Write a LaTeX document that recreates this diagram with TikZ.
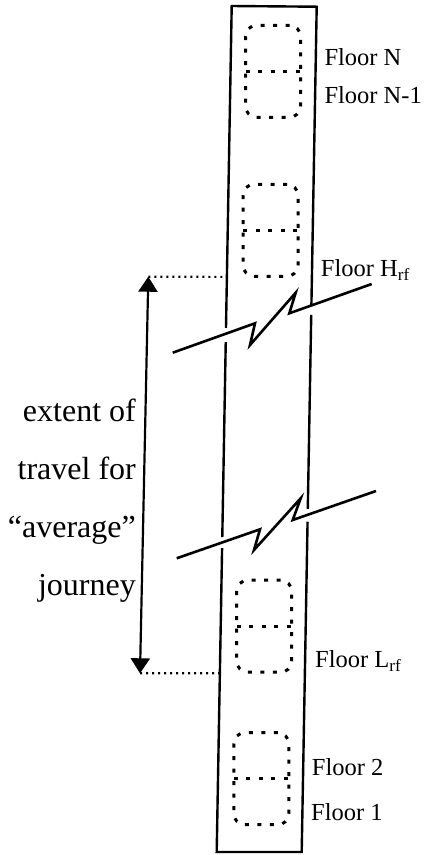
\documentclass[tikz,border=0pt]{standalone}
\usepackage{fontspec}
\setmainfont{Liberation Serif}
\usetikzlibrary{positioning,calc,arrows.meta}
\tikzset{
  wall/.style ={draw=black, line width=2.4pt, line join=miter},
  brk/.style  ={draw=black, line width=2.6pt, line join=miter},
  cabin/.style={rectangle, rounded corners=11pt, draw=black, line width=3pt, dash pattern=on 4pt off 8.5pt, minimum width=55pt, minimum height=92pt, inner sep=0pt, outer sep=0pt},
  split/.style={draw=black, line width=3pt, dash pattern=on 4pt off 8.5pt},
  lead/.style ={draw=black, line width=2.2pt, dash pattern=on 2pt off 4pt},
  flr/.style  ={anchor=base west, inner sep=0pt, font=\fontsize{24.5}{29}\selectfont},
  ext/.style  ={{Triangle[width=19pt,length=15pt]}-{Triangle[width=19pt,length=15pt]}, draw=black, line width=2.2pt},
}

\begin{document}
\begin{tikzpicture}[x=1pt, y=-1pt]
\useasboundingbox (0,0) rectangle (429,855);
% shaft corners
\coordinate (tl) at (231.7,6);
\coordinate (tr) at (316.7,6.7);
\coordinate (bl) at (216.7,852);
\coordinate (br) at (301.7,852);
% shaft walls, broken where the break lines cross
\draw[wall] ($(tl)!0.3806!(bl)$) -- (tl) -- (tr) -- ($(tr)!0.3529!(br)$);
\draw[wall] ($(tl)!0.3972!(bl)$) -- ($(tl)!0.6277!(bl)$);
\draw[wall] ($(tr)!0.3647!(br)$) -- ($(tr)!0.5942!(br)$);
\draw[wall] ($(tl)!0.6407!(bl)$) -- (bl) -- (br) -- ($(tr)!0.6093!(br)$);
% break lines
\draw[brk] (172.7,352.7) -- (255,323.3) -- (250,345) -- (295.7,292.7) -- (289.3,313.3) -- (371.7,284);
\draw[brk] (176.7,558.3) -- (260,529.3) -- (254,550) -- (300.7,498.3) -- (292.7,520) -- (376,491);
% cabins
\node[cabin] (cabTop) at (273,71.3) {};
\node[cabin] (cabH)   at (270.5,230.3) {};
\node[cabin] (cabL)   at (264.2,626.2) {};
\node[cabin] (cabBot) at (261.3,778.7) {};
\draw[split] (cabTop.west) -- (cabTop.east);
\draw[split] (cabH.west) -- (cabH.east);
\draw[split] (cabL.west) -- (cabL.east);
\draw[split] (cabBot.west) -- (cabBot.east);
% floor labels
\node[flr] (fN)  at (324.3,65)    {Floor N};
\node[flr] (fN1) at (324.3,103.3) {Floor N-1};
\node[flr] (fH)  at (320.7,276.7) {Floor H\textsubscript{rf}};
\node[flr] (fL)  at (315,667.3)   {Floor L\textsubscript{rf}};
\node[flr] (f2)  at (311.7,775)   {Floor 2};
\node[flr] (f1)  at (311,820)     {Floor 1};
% extent of travel
\coordinate (hi) at (148.3,276.7);
\coordinate (lo) at (140,673.3);
\coordinate (hiwall) at ($(tl)!0.3202!(bl)$);
\coordinate (lowall) at ($(tl)!0.7888!(bl)$);
\draw[lead] (hi) -- (hiwall);
\draw[lead] (lo) -- (lowall);
\draw[ext] (hi) -- (lo);
\node[align=right, anchor=east, inner sep=0pt, font=\fontsize{32}{58}\selectfont] (extent) at (136,501)
  {extent of\\travel for\\“average”\\journey};
\end{tikzpicture}
\end{document}
